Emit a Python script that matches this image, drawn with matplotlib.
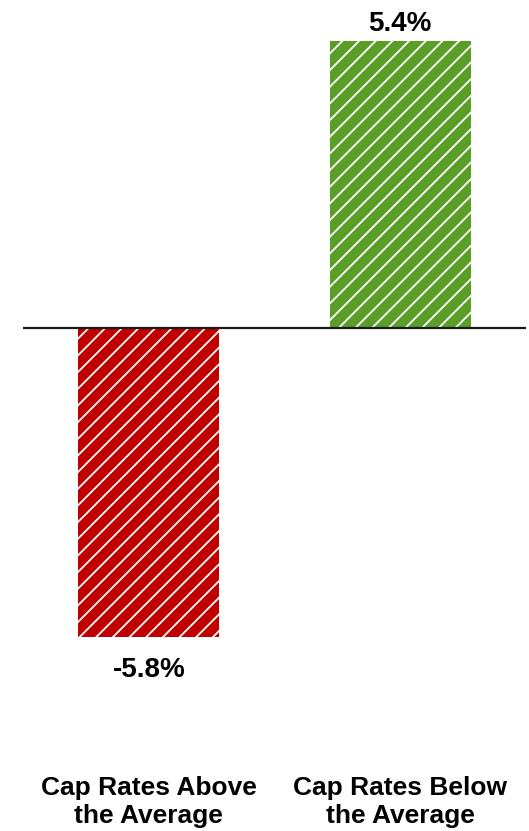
import matplotlib.pyplot as plt

categories = ['Cap Rates Above\nthe Average', 'Cap Rates Below\nthe Average']
values = [-5.8, 5.4]
labels = ['-5.8%', '5.4%']
colors = ['#C00000', '#5A9E28']

plt.rcParams['font.family'] = ['Liberation Sans', 'DejaVu Sans']
plt.rcParams['font.weight'] = 'bold'
plt.rcParams['hatch.linewidth'] = 1.3

fig = plt.figure(figsize=(5.29, 8.31), dpi=100)
ax = fig.add_axes([23 / 529, 130 / 831, 503 / 529, 660 / 831])

x = list(range(len(values)))
bars = ax.bar(x, values, width=0.56, color=colors, edgecolor='white',
              linewidth=0, hatch='//', zorder=2)

ax.axhline(0, color='#1a1a1a', lw=1.6, zorder=3)

for xi, v, lab in zip(x, values, labels):
    off = 0.06 if v > 0 else -0.38
    ax.text(xi, v + off, lab, ha='center', va='bottom' if v > 0 else 'top',
            fontsize=20, fontweight='bold')

ax.set_xlim(-0.5, 1.5)
ax.set_ylim(-7.01, 5.39)
ax.set_xticks(x)
ax.set_xticklabels(categories, fontsize=19, fontweight='bold', linespacing=1.22)
ax.tick_params(axis='x', length=0, pad=54)
ax.set_yticks([])
for s in ax.spines.values():
    s.set_visible(False)

plt.savefig('out.png', dpi=100)
